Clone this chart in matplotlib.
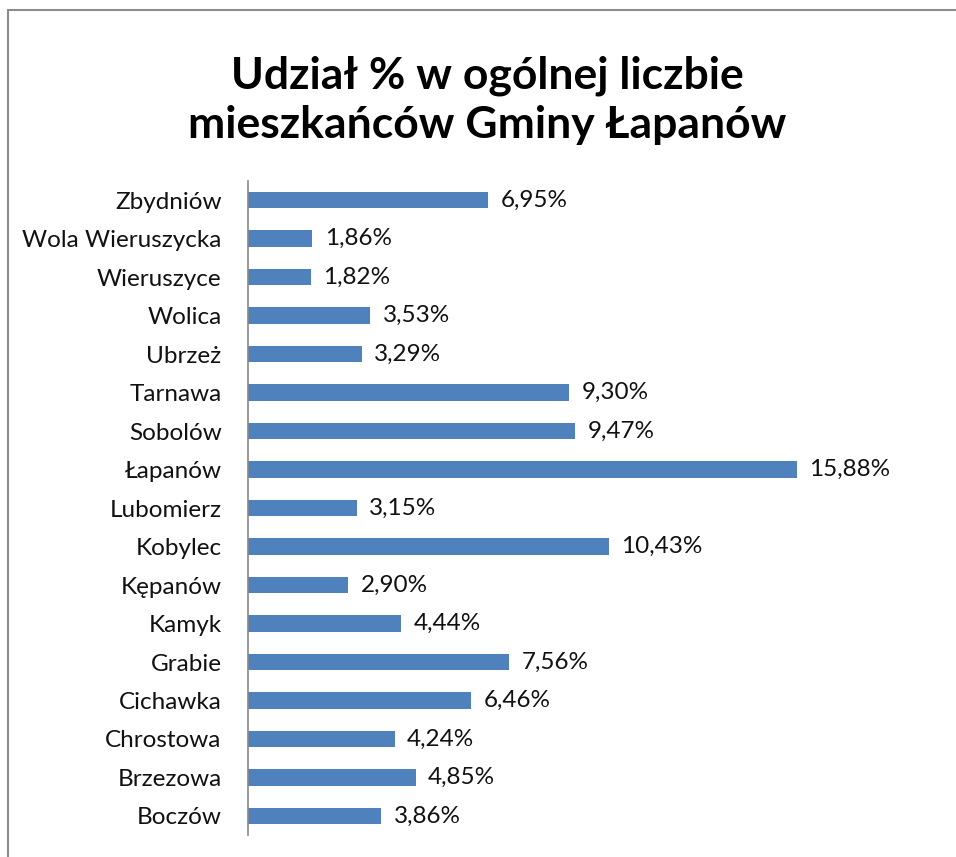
import matplotlib.pyplot as plt
from matplotlib.patches import Rectangle

categories = ["Zbydniów", "Wola Wieruszycka", "Wieruszyce", "Wolica", "Ubrzeż",
              "Tarnawa", "Sobolów", "Łapanów", "Lubomierz", "Kobylec", "Kępanów",
              "Kamyk", "Grabie", "Cichawka", "Chrostowa", "Brzezowa", "Boczów"]
values = [6.95, 1.86, 1.82, 3.53, 3.29, 9.30, 9.47, 15.88, 3.15, 10.43, 2.90,
          4.44, 7.56, 6.46, 4.24, 4.85, 3.86]

plt.rcParams["font.family"] = ["Lato", "DejaVu Sans"]

fig = plt.figure(figsize=(9.56, 8.57), dpi=100)
ax = fig.add_axes([0.2594, 0.0254, 1 - 0.2594, 0.789 - 0.0254])

y = list(range(len(categories)))
ax.barh(y, values, height=0.42, color="#4F81BD")
ax.set_ylim(len(categories) - 0.5, -0.5)
ax.set_xlim(0, 20.48)

ax.set_yticks(y)
ax.set_yticklabels(categories, fontsize=17.5, color="#111111")
ax.tick_params(axis="y", length=0, pad=19)
ax.set_xticks([])

for s in ["top", "right", "bottom"]:
    ax.spines[s].set_visible(False)
ax.spines["left"].set_color("#888888")
ax.spines["left"].set_linewidth(1.2)

for yi, v in zip(y, values):
    ax.annotate(f"{v:.2f}%".replace(".", ","), (v, yi), xytext=(9, 0),
                textcoords="offset points", va="center", ha="left",
                fontsize=17.5, color="#111111")

fig.text(0.51, 0.883, "Udział % w ogólnej liczbie\nmieszkańców Gminy Łapanów",
         ha="center", va="center", fontsize=32, fontweight="bold",
         linespacing=1.25)

# chart border (left and top visible in the crop)
fig.patches.append(Rectangle((8 / 956, -0.1), 1.2, 1 - 10 / 857 + 0.1,
                             transform=fig.transFigure, fill=False,
                             edgecolor="#8c8c8c", linewidth=1.5))

fig.savefig("out.png", dpi=100)
